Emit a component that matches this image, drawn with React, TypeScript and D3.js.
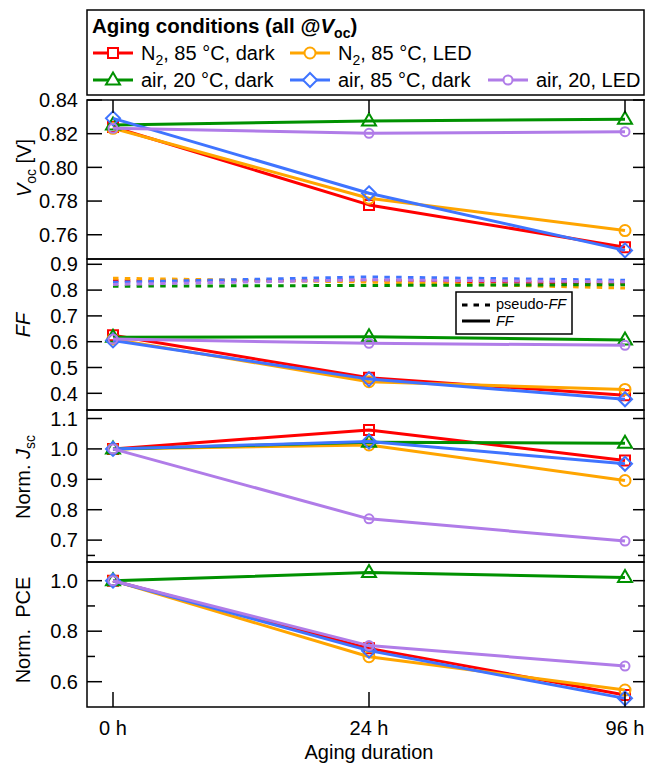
import React from 'react';
import * as d3 from 'd3';

const times = ['0 h', '24 h', '96 h'];
const seriesLabels = ['N2, 85 °C, dark', 'N2, 85 °C, LED', 'air, 20 °C, dark', 'air, 85 °C, dark', 'air, 20, LED'];
const seriesColors = ['#ff0000', '#ffa500', '#009100', '#3f74ff', '#b07ce8'];
const seriesMarkers = ['square', 'circle', 'triangle', 'diamond', 'smallCircle'];

const vocValues = [
  [0.824, 0.7777, 0.7526],
  [0.8232, 0.7817, 0.7625],
  [0.8252, 0.8275, 0.8286],
  [0.8291, 0.7846, 0.7507],
  [0.8232, 0.8202, 0.8212],
];
const ffValues = [
  [0.625, 0.46, 0.392],
  [0.61, 0.445, 0.415],
  [0.617, 0.619, 0.607],
  [0.605, 0.455, 0.377],
  [0.61, 0.594, 0.586],
];
const pseudoFfValues = [
  [0.836, 0.838, 0.826],
  [0.846, 0.831, 0.808],
  [0.815, 0.818, 0.821],
  [0.83, 0.851, 0.838],
  [0.822, 0.84, 0.832],
];
const jscValues = [
  [1.0, 1.0625, 0.962],
  [1.0, 1.013, 0.896],
  [1.0, 1.022, 1.019],
  [1.0, 1.024, 0.951],
  [1.0, 0.77, 0.697],
];
const pceValues = [
  [1.0, 0.732, 0.547],
  [1.0, 0.699, 0.567],
  [1.0, 1.032, 1.013],
  [1.0, 0.723, 0.534],
  [1.0, 0.743, 0.662],
];

const vocTicks = [0.84, 0.82, 0.8, 0.78, 0.76];
const ffTicks = [0.9, 0.8, 0.7, 0.6, 0.5, 0.4];
const jscTicks = [1.1, 1.0, 0.9, 0.8, 0.7];
const pceTicks = [1.0, 0.8, 0.6];
const pceMinorTicks = [1.1, 0.9, 0.7];

const FONT = '"Liberation Sans", Arial, sans-serif';
const W = 646;
const H = 766;
const L = 87;
const R = 645;

const x = d3.scalePoint<string>().domain(times).range([113, 625]);

type Panel = {
  key: string;
  values: number[][];
  domain: [number, number];
  top: number;
  bottom: number;
  ticks: number[];
  minor: number[];
  fmt: string;
};

const panels: Panel[] = [
  { key: 'voc', values: vocValues, domain: [0.7456, 0.84], top: 100, bottom: 259, ticks: vocTicks, minor: [], fmt: '.2f' },
  { key: 'ff', values: ffValues, domain: [0.3353, 0.9205], top: 259, bottom: 410, ticks: ffTicks, minor: [], fmt: '.1f' },
  { key: 'jsc', values: jscValues, domain: [0.628, 1.128], top: 410, bottom: 562, ticks: jscTicks, minor: [], fmt: '.1f' },
  { key: 'pce', values: pceValues, domain: [0.4998, 1.074], top: 562, bottom: 707, ticks: pceTicks, minor: pceMinorTicks, fmt: '.1f' },
];

function markerPath(type: string, cx: number, cy: number): string {
  const p = d3.path();
  if (type === 'square') {
    p.rect(cx - 5, cy - 5, 10, 10);
  } else if (type === 'circle') {
    p.moveTo(cx + 5.5, cy);
    p.arc(cx, cy, 5.5, 0, Math.PI * 2);
  } else if (type === 'smallCircle') {
    p.moveTo(cx + 4.5, cy);
    p.arc(cx, cy, 4.5, 0, Math.PI * 2);
  } else if (type === 'triangle') {
    p.moveTo(cx, cy - 7.5);
    p.lineTo(cx + 7, cy + 4.5);
    p.lineTo(cx - 7, cy + 4.5);
    p.closePath();
  } else if (type === 'diamond') {
    p.moveTo(cx, cy - 7);
    p.lineTo(cx + 7, cy);
    p.lineTo(cx, cy + 7);
    p.lineTo(cx - 7, cy);
    p.closePath();
  }
  return p.toString();
}

function LegendLabel({ label, x0, y0 }: { label: string; x0: number; y0: number }) {
  if (label.startsWith('N2')) {
    return (
      <text x={x0} y={y0} fontSize={20} fontFamily={FONT}>
        N<tspan fontSize={14} dy={5}>2</tspan>
        <tspan dy={-5}>{label.slice(2)}</tspan>
      </text>
    );
  }
  return (
    <text x={x0} y={y0} fontSize={20} fontFamily={FONT}>
      {label}
    </text>
  );
}

export default function App() {
  const legendPos = [
    [93, 53],
    [290, 53],
    [93, 80],
    [290, 80],
    [488, 80],
  ];
  const lineGen = d3.line<[number, number]>();

  return (
    <svg
      width={W}
      height={H}
      viewBox={`0 0 ${W} ${H}`}
      style={{ position: 'absolute', left: 0, top: 0, background: '#fff' }}
    >
      <rect x={0} y={0} width={W} height={H} fill="#fff" />
      {/* Legend box */}
      <rect x={L} y={10} width={R - L - 1} height={85} fill="#fff" stroke="#000" strokeWidth={1.5} />
      <text x={92} y={33} fontSize={20.5} fontWeight="bold" fontFamily={FONT}>
        Aging conditions (all @<tspan fontStyle="italic">V</tspan>
        <tspan fontSize={14} dy={5}>oc</tspan>
        <tspan dy={-5}>)</tspan>
      </text>
      {seriesLabels.map((lab, i) => {
        const [lx, ly] = legendPos[i];
        return (
          <g key={lab}>
            <line x1={lx} x2={lx + 40} y1={ly} y2={ly} stroke={seriesColors[i]} strokeWidth={3} />
            <path d={markerPath(seriesMarkers[i], lx + 20, ly)} fill="#fff" stroke={seriesColors[i]} strokeWidth={2} />
            <LegendLabel label={lab} x0={lx + 48} y0={ly + 7} />
          </g>
        );
      })}

      {panels.map((pn) => {
        const y = d3.scaleLinear().domain(pn.domain).range([pn.bottom, pn.top]);
        const fmt = d3.format(pn.fmt);
        const pts = (vals: number[]) => vals.map((v, j) => [x(times[j]) as number, y(v)] as [number, number]);
        return (
          <g key={pn.key}>
            {pn.key === 'ff' &&
              pseudoFfValues.map((vals, i) => (
                <path
                  key={'p' + i}
                  d={lineGen(pts(vals)) || ''}
                  fill="none"
                  stroke={seriesColors[i]}
                  strokeWidth={3}
                  strokeDasharray="5.5 6.3"
                />
              ))}
            {pn.values.map((vals, i) => (
              <g key={i}>
                <path d={lineGen(pts(vals)) || ''} fill="none" stroke={seriesColors[i]} strokeWidth={3} strokeLinejoin="round" />
                {pts(vals).map(([px, py], j) => (
                  <path key={j} d={markerPath(seriesMarkers[i], px, py)} fill="none" stroke={seriesColors[i]} strokeWidth={2} />
                ))}
              </g>
            ))}
            <rect x={L} y={pn.top} width={R - L - 1} height={pn.bottom - pn.top} fill="none" stroke="#000" strokeWidth={1.5} />
            {pn.ticks.map((t) => (
              <g key={'t' + t}>
                <line x1={L} x2={L + 15} y1={y(t)} y2={y(t)} stroke="#000" strokeWidth={1.5} />
                <line x1={R - 12} x2={R} y1={y(t)} y2={y(t)} stroke="#000" strokeWidth={1.5} />
                <text x={78} y={y(t)} dy="0.36em" textAnchor="end" fontSize={20} fontFamily={FONT}>
                  {fmt(t)}
                </text>
              </g>
            ))}
            {pn.minor.map((t) => (
              <g key={'m' + t}>
                <line x1={L} x2={L + 8} y1={y(t)} y2={y(t)} stroke="#000" strokeWidth={1.5} />
                <line x1={R - 7} x2={R} y1={y(t)} y2={y(t)} stroke="#000" strokeWidth={1.5} />
              </g>
            ))}
          </g>
        );
      })}

      {times.map((t) => (
        <g key={t}>
          <line x1={x(t)} x2={x(t)} y1={100} y2={113} stroke="#000" strokeWidth={1.5} />
          <line x1={x(t)} x2={x(t)} y1={707} y2={692} stroke="#000" strokeWidth={1.5} />
          <text x={x(t)} y={735} textAnchor="middle" fontSize={20} fontFamily={FONT}>
            {t}
          </text>
        </g>
      ))}
      <text x={369} y={759} textAnchor="middle" fontSize={20} fontFamily={FONT}>
        Aging duration
      </text>

      {/* pseudo-FF legend */}
      <rect x={456} y={292} width={116} height={42} fill="#fff" stroke="#000" strokeWidth={1.5} />
      <line x1={462} x2={490} y1={305} y2={305} stroke="#000" strokeWidth={3} strokeDasharray="5.5 6" />
      <line x1={462} x2={490} y1={321} y2={321} stroke="#000" strokeWidth={3} />
      <text x={496} y={309} fontSize={14.5} fontFamily={FONT}>
        pseudo-<tspan fontStyle="italic">FF</tspan>
      </text>
      <text x={496} y={326} fontSize={14.5} fontFamily={FONT} fontStyle="italic">
        FF
      </text>

      {/* y-axis titles */}
      <text transform="translate(31,168) rotate(-90)" textAnchor="middle" fontSize={20} fontFamily={FONT}>
        <tspan fontStyle="italic">V</tspan>
        <tspan fontSize={14} dy={5}>oc</tspan>
        <tspan dy={-5}> [V]</tspan>
      </text>
      <text transform="translate(30,325) rotate(-90)" textAnchor="middle" fontSize={20} fontFamily={FONT} fontStyle="italic">
        FF
      </text>
      <text transform="translate(30,477) rotate(-90)" textAnchor="middle" fontSize={20} fontFamily={FONT}>
        Norm. <tspan fontStyle="italic">J</tspan>
        <tspan fontSize={14} dy={5}>sc</tspan>
      </text>
      <text transform="translate(30,630) rotate(-90)" textAnchor="middle" fontSize={20} fontFamily={FONT}>
        {'Norm.\u00a0 PCE'}
      </text>
    </svg>
  );
}
